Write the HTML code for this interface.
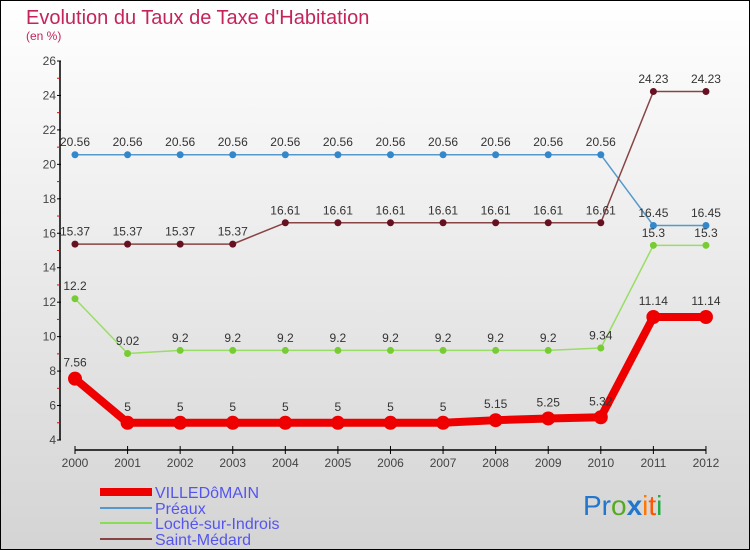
<!DOCTYPE html>
<html><head><meta charset="utf-8"><style>
body{margin:0;padding:0}
svg{display:block;font-family:"Liberation Sans",sans-serif}
</style></head><body>
<svg width="750" height="550" viewBox="0 0 750 550">
<defs><linearGradient id="bg" x1="0" y1="0" x2="0" y2="1"><stop offset="0" stop-color="#ffffff"/><stop offset="1" stop-color="#d4d4d4"/></linearGradient></defs>
<rect x="0.5" y="0.5" width="749" height="549" fill="url(#bg)" stroke="#000"/>
<text x="26" y="24" font-size="20" fill="#c4245c">Evolution du Taux de Taxe d'Habitation</text>
<text x="26" y="40" font-size="12" fill="#c4245c">(en %)</text>
<g id="axes"></g>
<g id="series"></g>
<g>
<line x1="100" y1="492" x2="152" y2="492" stroke="#ee0000" stroke-width="8"/>
<text x="155" y="498" font-size="16" fill="#5555ee">VILLEDôMAIN</text>
<line x1="100" y1="508" x2="152" y2="508" stroke="#5599cc" stroke-width="2"/>
<text x="155" y="514" font-size="16" fill="#5555ee">Préaux</text>
<line x1="100" y1="523" x2="152" y2="523" stroke="#88dd55" stroke-width="2"/>
<text x="155" y="529" font-size="16" fill="#5555ee">Loché-sur-Indrois</text>
<line x1="100" y1="539" x2="152" y2="539" stroke="#884444" stroke-width="2"/>
<text x="155" y="545" font-size="16" fill="#5555ee">Saint-Médard</text>
</g>
<g font-size="28">
<text x="583" y="515"><tspan fill="#2277cc">Pr</tspan><tspan fill="#55aa22">o</tspan><tspan fill="#2277cc" font-weight="bold">x</tspan><tspan fill="#ff7700">i</tspan><tspan fill="#ff5500">t</tspan><tspan fill="#22aa44">i</tspan></text>
</g>
</svg>
<script>
const years=["2000","2001","2002","2003","2004","2005","2006","2007","2008","2009","2010","2011","2012"];
const yTicks=[4,6,8,10,12,14,16,18,20,22,24,26];
const villedomain=[7.56,5,5,5,5,5,5,5,5.15,5.25,5.32,11.14,11.14];
const preaux=[20.56,20.56,20.56,20.56,20.56,20.56,20.56,20.56,20.56,20.56,20.56,16.45,16.45];
const loche=[12.2,9.02,9.2,9.2,9.2,9.2,9.2,9.2,9.2,9.2,9.34,15.3,15.3];
const saintMedard=[15.37,15.37,15.37,15.37,16.61,16.61,16.61,16.61,16.61,16.61,16.61,24.23,24.23];
const NS="http://www.w3.org/2000/svg";
const xs=i=>75+i*52.58;
const ys=v=>440-(v-4)*(379/22);
function mk(t,a,p){const e=document.createElementNS(NS,t);for(const k in a)e.setAttribute(k,a[k]);p.appendChild(e);return e;}
const ax=document.getElementById('axes');
mk('line',{x1:60,y1:ys(26),x2:60,y2:ys(4),stroke:'#000','stroke-width':1.5},ax);
yTicks.forEach((v,k)=>{
 mk('line',{x1:57,y1:ys(v),x2:61,y2:ys(v),stroke:'#000'},ax);
 if(k<yTicks.length-1) mk('line',{x1:57,y1:ys(v+1),x2:60,y2:ys(v+1),stroke:'#e00'},ax);
 const t=mk('text',{x:56,y:ys(v)+4,'font-size':12,'text-anchor':'end',fill:'#444'},ax);
 
 
 t.textContent=v;
});
mk('line',{x1:xs(0),y1:450,x2:xs(12),y2:450,stroke:'#000','stroke-width':1.5},ax);
years.forEach((y,i)=>{
 mk('line',{x1:xs(i),y1:446,x2:xs(i),y2:454,stroke:'#000'},ax);
 const t=mk('text',{x:xs(i),y:467,'font-size':12,'text-anchor':'middle',fill:'#444'},ax);
 
 
 t.textContent=y;
});
const sg=document.getElementById('series');
function series(name,data,color,w,r,dot){
 const g=mk('g',{},sg);
 
 
 mk('polyline',{points:data.map((v,i)=>xs(i)+','+ys(v)).join(' '),fill:'none',stroke:color,'stroke-width':w,'stroke-linejoin':'round'},g);
 data.forEach((v,i)=>{
  const c=mk('circle',{cx:xs(i),cy:ys(v),r:r,fill:dot},g);
  
  
  const t=mk('text',{x:xs(i),y:ys(v)-(r+5),'font-size':12,'text-anchor':'middle',fill:'#333'},g);
  
  
  t.textContent=String(v);
 });
}
series('preaux-line',preaux,'#5599cc',1.5,3.5,'#3388cc');
series('saint-medard-line',saintMedard,'#884444',1.5,3.5,'#661122');
series('loche-line',loche,'#99dd66',1.5,3.5,'#77cc33');
series('villedomain-line',villedomain,'#ee0000',8,7,'#ee0000');
</script>
</body></html>
